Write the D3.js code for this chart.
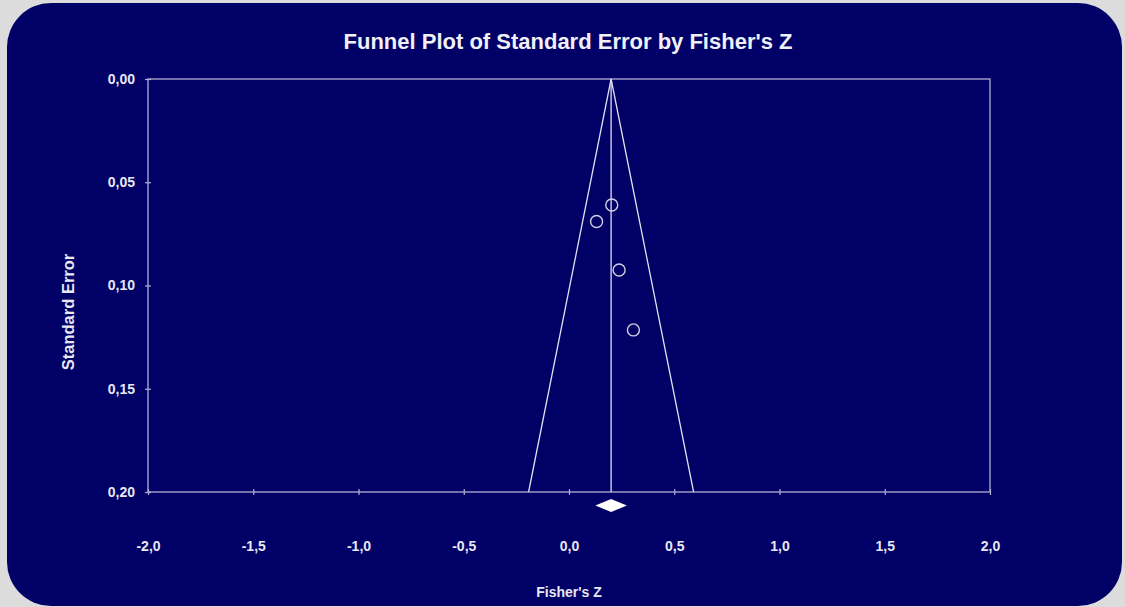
<!DOCTYPE html>
<html><head><meta charset="utf-8">
<script src="https://cdn.jsdelivr.net/npm/d3@7"></script>
<style>html,body{margin:0;padding:0;background:#dcdcdc;}svg{display:block;}</style>
</head><body>
<svg id="c" width="1125" height="607"></svg>
<script>
// Data
const studyZ = [0.203, 0.131, 0.238, 0.306];
const studySE = [0.061, 0.069, 0.0925, 0.1215];
const pooledZ = 0.20;
const pooledLower = 0.125;
const pooledUpper = 0.275;
const xTicks = [-2.0, -1.5, -1.0, -0.5, 0.0, 0.5, 1.0, 1.5, 2.0];
const yTicks = [0.00, 0.05, 0.10, 0.15, 0.20];
const seMax = 0.20;

const svg = d3.select("#c");
svg.append("rect").attr("x",7).attr("y",3).attr("width",1115).attr("height",603)
  .attr("rx",44).attr("ry",44).attr("fill","#000066");

const m = {l:148, r:990, t:79, b:492};
const x = d3.scaleLinear().domain([-2,2]).range([m.l,m.r]);
const y = d3.scaleLinear().domain([0,0.2]).range([m.t,m.b]);
const fmt = d => d.toFixed(1).replace(".",",");
const fmtY = d => d.toFixed(2).replace(".",",");
const font = "Liberation Sans, Arial, Helvetica, sans-serif";
const frame = "#b0b0d4";

// frame
svg.append("rect").attr("x",m.l).attr("y",m.t).attr("width",m.r-m.l).attr("height",m.b-m.t)
  .attr("fill","none").attr("stroke",frame).attr("stroke-width",1.3);

// axes
const xAxis = svg.append("g").attr("transform",`translate(0,${m.b})`)
  .call(d3.axisBottom(x).tickValues(xTicks).tickFormat(fmt).tickSize(3).tickPadding(46));
xAxis.select(".domain").remove();
xAxis.selectAll(".tick line").attr("stroke",frame).attr("y1",-3).attr("y2",3).attr("stroke-width",1.2);
xAxis.selectAll("text").attr("fill","#e8e8f4").attr("font-family",font).attr("font-weight","bold").attr("font-size",14);

const yAxis = svg.append("g").attr("transform",`translate(${m.l},0)`)
  .call(d3.axisLeft(y).tickValues(yTicks).tickFormat(fmtY).tickSize(3).tickPadding(10));
yAxis.select(".domain").remove();
yAxis.selectAll(".tick line").attr("stroke",frame).attr("x1",-3).attr("x2",3).attr("stroke-width",1.2);
yAxis.selectAll("text").attr("fill","#e8e8f4").attr("font-family",font).attr("font-weight","bold").attr("font-size",14);

// funnel
const lineCol = "#e0e0ee";
const funnel = [[pooledZ-1.96*seMax, seMax],[pooledZ,0],[pooledZ+1.96*seMax, seMax]];
svg.append("path").attr("d", d3.line().x(d=>x(d[0])).y(d=>y(d[1]))(funnel))
  .attr("fill","none").attr("stroke",lineCol).attr("stroke-width",1.3);
svg.append("line").attr("x1",x(pooledZ)).attr("x2",x(pooledZ)).attr("y1",y(0)).attr("y2",y(seMax))
  .attr("stroke",lineCol).attr("stroke-width",1.3);

// points
svg.selectAll("circle.pt").data(studyZ).enter().append("circle").attr("class","pt")
  .attr("cx",(d)=>x(d)).attr("cy",(d,i)=>y(studySE[i])).attr("r",6)
  .attr("fill","none").attr("stroke","#d0d0e4").attr("stroke-width",1.4);

// diamond
const dy = m.b + 13.5;
svg.append("path").attr("d", `M${x(pooledLower)},${dy} L${x(pooledZ)},${dy-6.5} L${x(pooledUpper)},${dy} L${x(pooledZ)},${dy+6.5} Z`)
  .attr("fill","#ffffff");

// titles
svg.append("text").attr("x",568).attr("y",49).attr("text-anchor","middle")
  .attr("fill","#f0f0f8").attr("font-family",font).attr("font-weight","bold").attr("font-size",22)
  .text("Funnel Plot of Standard Error by Fisher's Z");
svg.append("text").attr("x",569).attr("y",597).attr("text-anchor","middle")
  .attr("fill","#e8e8f4").attr("font-family",font).attr("font-weight","bold").attr("font-size",14)
  .text("Fisher's Z");
svg.append("text").attr("transform","translate(74,312) rotate(-90)").attr("text-anchor","middle")
  .attr("fill","#e8e8f4").attr("font-family",font).attr("font-weight","bold").attr("font-size",16.5)
  .text("Standard Error");
</script>
</body></html>
